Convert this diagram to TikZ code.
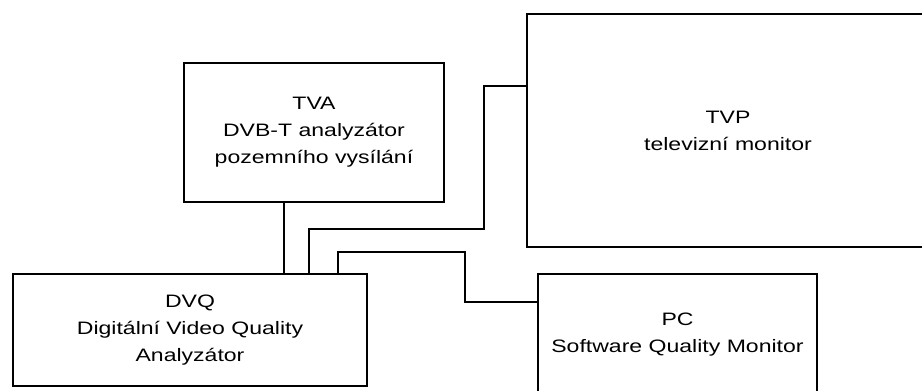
\documentclass[tikz,border=0pt]{standalone}
\usepackage{fontspec}
\setmainfont[FakeStretch=1.28]{Liberation Sans}
\usepackage{tikz}
\usetikzlibrary{positioning, calc}

\begin{document}
\begin{tikzpicture}[x=1pt, y=-1pt, line width=1.5pt,
  unit/.style={draw, rectangle, align=center, inner sep=0pt,
    font=\fontsize{18}{27}\selectfont}]
\useasboundingbox (0,0) rectangle (922,391);
% Measurement chain
\node[unit, minimum width=260pt, minimum height=139pt] (tva) at (314,132.5) {TVA\\DVB-T analyzátor\\pozemního vysílání};
\node[unit, minimum width=402pt, minimum height=233pt] (tvp) at (728,130.5) {TVP\\televizní monitor};
\node[unit, minimum width=354pt, minimum height=112pt] (dvq) at (190,330) {DVQ\\Digitální Video Quality\\Analyzátor};
\node[unit, minimum width=279pt, minimum height=121pt] (pc) at (677.5,334.5) {PC\\Software Quality Monitor};

\draw ([xshift=-30pt]tva.south) -- ([xshift=-30pt]tva.south |- dvq.north);
\draw ([xshift=119pt]dvq.north) |- (484,229) |- ([yshift=44.5pt]tvp.west);
\draw ([xshift=148pt]dvq.north) |- (465,252) |- ([yshift=32.5pt]pc.west);
\end{tikzpicture}
\end{document}
